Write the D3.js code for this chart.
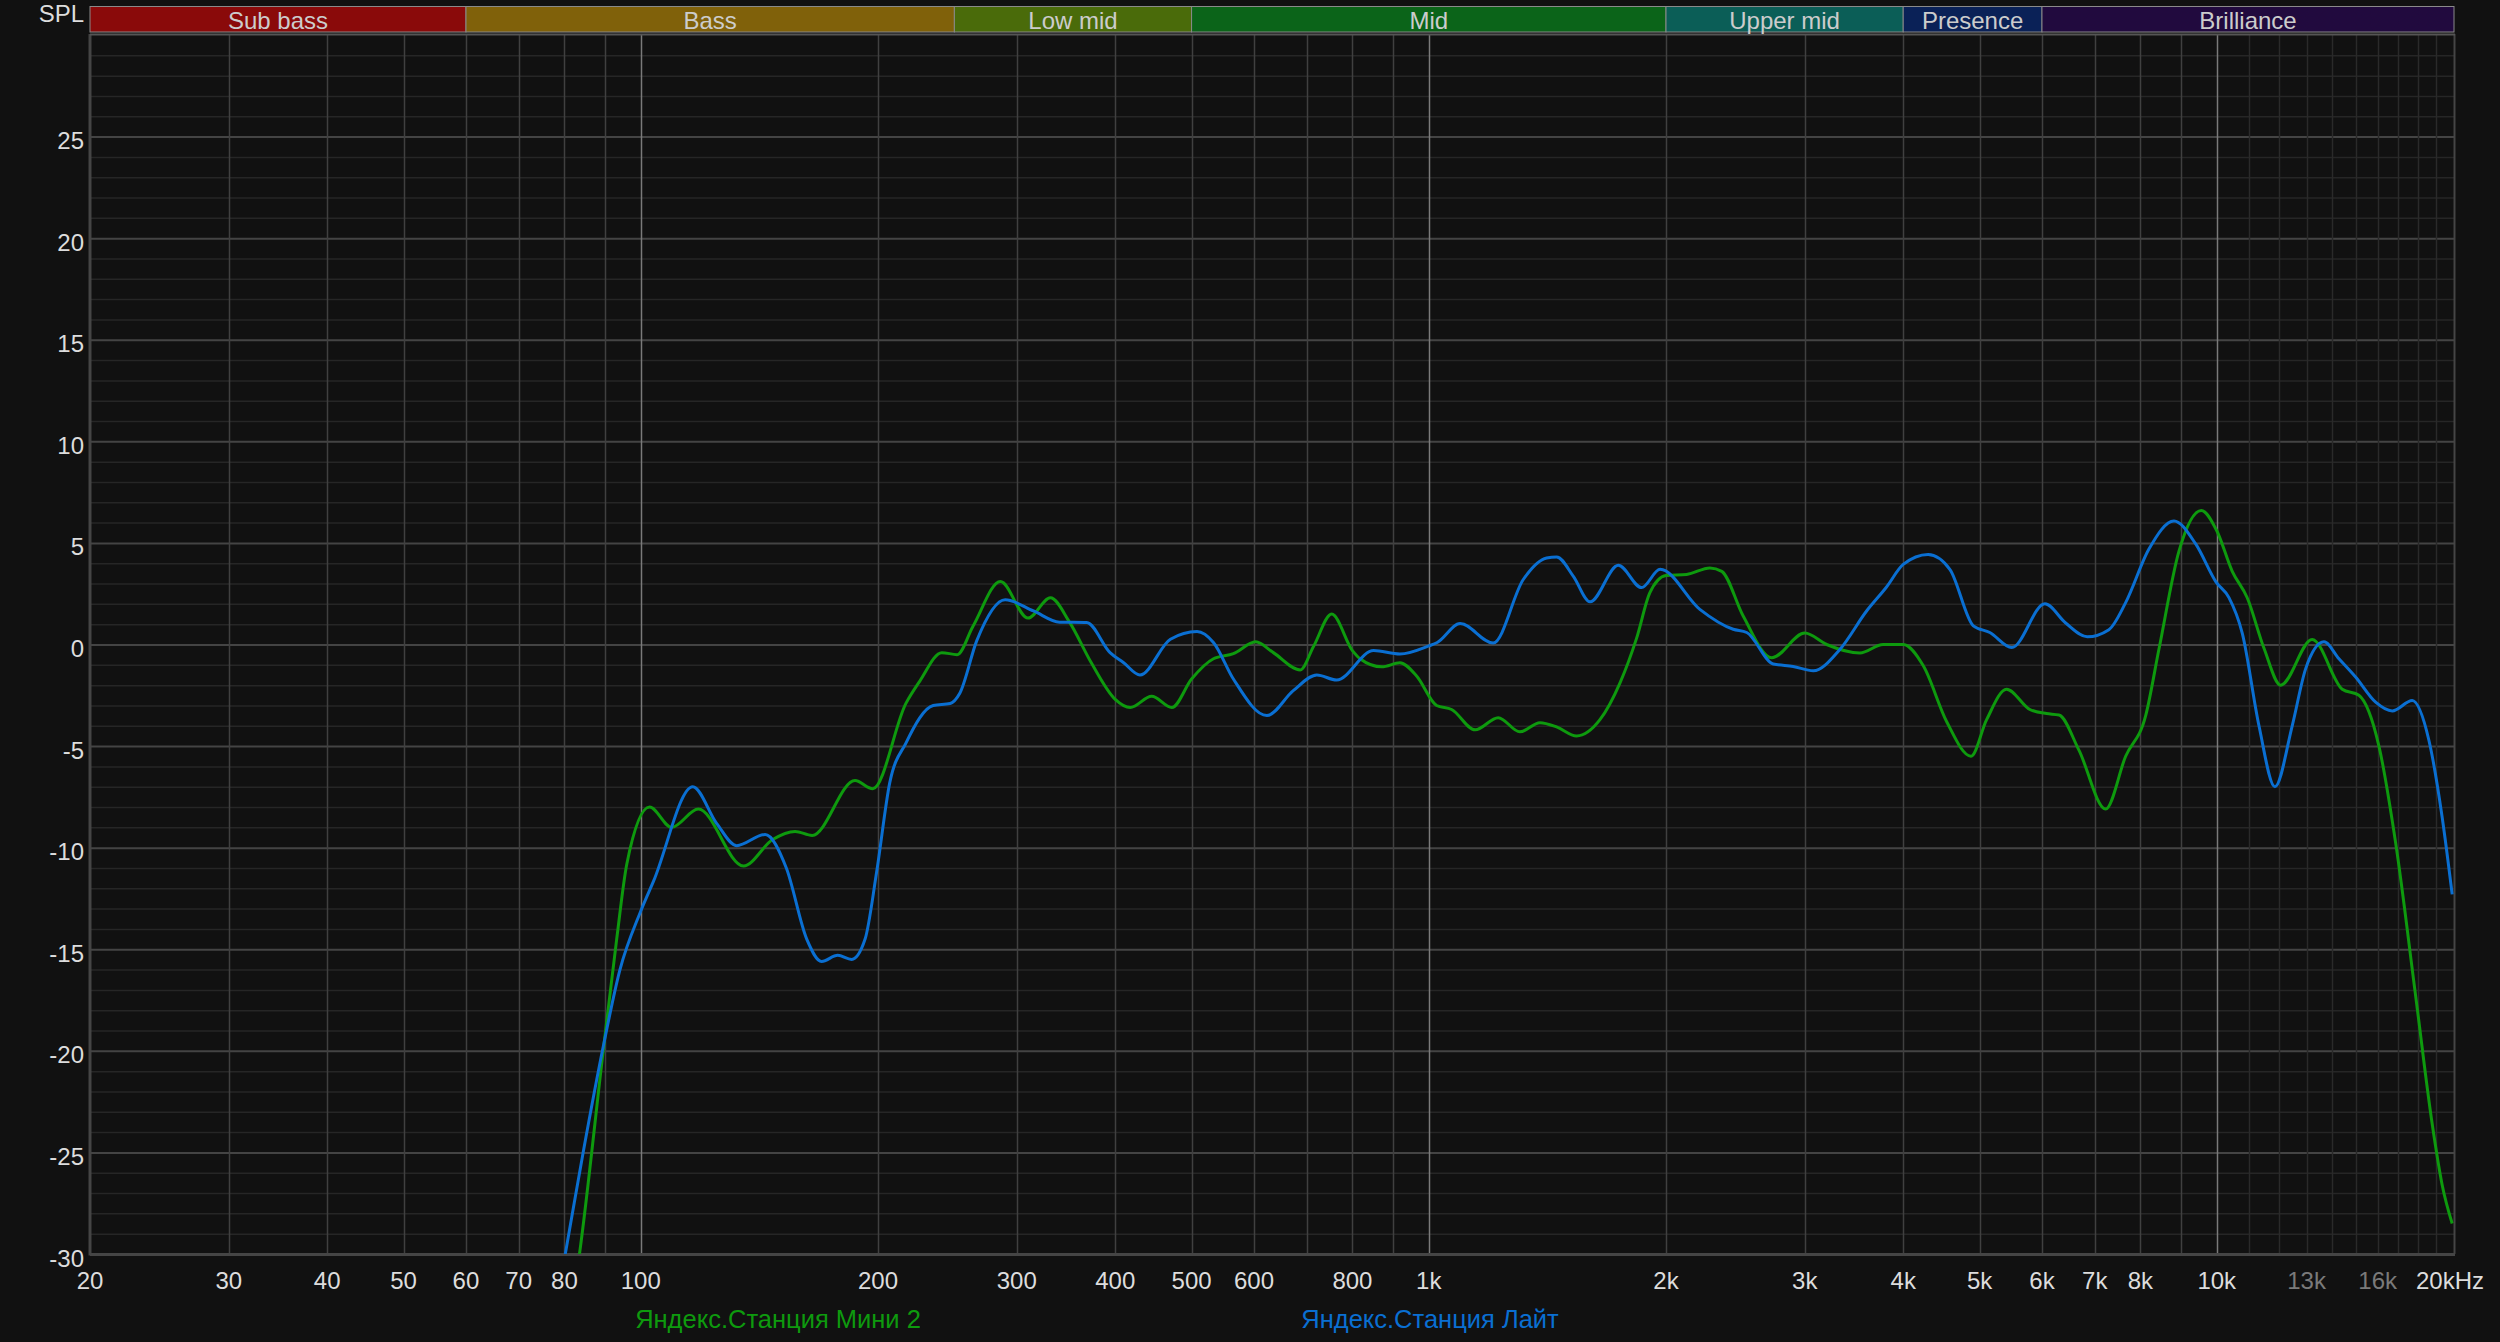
<!DOCTYPE html>
<html>
<head>
<meta charset="utf-8">
<script src="https://cdn.jsdelivr.net/npm/d3@7"></script>
<style>
  html, body { margin: 0; padding: 0; background: #111111; }
  svg { display: block; }
  text { font-family: "Liberation Sans", Arial, sans-serif; }
</style>
</head>
<body>
<svg id="chart" width="2500" height="1342"></svg>
<script>
// ---------------- DATA ----------------
const seriesNames = ["Яндекс.Станция Мини 2", "Яндекс.Станция Лайт"];
const seriesColors = ["#0e9a0e", "#0a6fd2"];

const miniFreq = [78, 83.6, 89.6, 93.2, 96, 102.6, 109.4, 118.3, 135, 147, 157, 165, 187, 197, 217, 226, 241, 252, 264, 286, 310, 331, 350, 373, 400, 418, 445, 472, 500, 533, 565, 603, 635, 687, 714, 753, 800, 818, 872, 919, 965, 1023, 1069, 1145, 1225, 1305, 1384, 1455, 1540, 1649, 1748, 1835, 1908, 2000, 2124, 2274, 2354, 2506, 2724, 3000, 3198, 3524, 3772, 4000, 4242, 4542, 4876, 5104, 5410, 5792, 6080, 6306, 6684, 7226, 7662, 8124, 8448, 8954, 9558, 10000, 10462, 10930, 11482, 12052, 13214, 14428, 15148, 16060, 16862, 17880, 18766, 19320, 19894];
const miniSPL = [-37, -30, -20, -14.5, -10.8, -8.0, -9.0, -8.1, -10.9, -9.6, -9.2, -9.4, -6.7, -7.1, -2.9, -1.8, -0.4, -0.5, 0.9, 3.1, 1.3, 2.3, 1.1, -0.9, -2.7, -3.1, -2.55, -3.1, -1.7, -0.7, -0.45, 0.13, -0.4, -1.25, -0.1, 1.5, -0.3, -0.7, -1.1, -0.9, -1.55, -3.0, -3.2, -4.2, -3.6, -4.3, -3.85, -4.07, -4.5, -3.7, -1.9, 0.3, 2.55, 3.4, 3.45, 3.77, 3.6, 1.4, -0.65, 0.56, 0.0, -0.42, 0.0, 0.0, -1.05, -3.8, -5.5, -3.7, -2.2, -3.2, -3.4, -3.47, -5.2, -8.1, -5.5, -3.5, -0.2, 4.6, 6.6, 5.6, 3.6, 2.3, -0.2, -2.0, 0.25, -2.2, -2.5, -5.0, -9.75, -17.3, -23.6, -26.6, -28.5];

const liteFreq = [76, 80.2, 84.5, 89.6, 94.1, 99.8, 103.8, 116.4, 124.8, 132.3, 143.8, 153, 162.4, 169.6, 177.8, 185.2, 192.6, 199.2, 207, 217, 235, 247, 254, 267, 290, 315, 340, 368, 394, 410, 430, 470, 508, 533, 565, 623, 673, 721, 764, 851, 919, 1000, 1025, 1096, 1207, 1318, 1411, 1453, 1525, 1602, 1740, 1862, 1966, 2208, 2434, 2532, 2736, 2900, 3076, 3326, 3594, 3810, 4000, 4302, 4586, 4910, 5152, 5492, 6052, 6430, 6848, 7296, 7662, 8202, 8824, 9402, 9980, 10362, 10774, 11312, 11852, 12466, 12964, 13678, 14290, 15002, 15906, 16700, 17702, 18582, 19320, 19894];
const liteSPL = [-35, -30, -25, -19.8, -16.0, -13.2, -11.65, -7.0, -8.8, -9.9, -9.35, -11, -14.5, -15.6, -15.3, -15.5, -14.5, -11.2, -6.8, -4.85, -3.0, -2.9, -2.4, 0.2, 2.2, 1.65, 1.1, 1.08, -0.4, -0.9, -1.5, 0.26, 0.64, 0.1, -1.7, -3.5, -2.27, -1.5, -1.75, -0.3, -0.47, -0.07, 0.1, 1.03, 0.07, 3.2, 4.26, 4.31, 3.37, 2.1, 3.9, 2.8, 3.7, 1.73, 0.75, 0.59, -0.96, -1.08, -1.29, -0.23, 1.65, 2.83, 3.94, 4.43, 3.69, 0.92, 0.59, -0.15, 2.0, 1.06, 0.38, 0.73, 2.06, 4.7, 6.08, 4.95, 3.07, 2.31, 0.55, -4.0, -7.0, -4.0, -1.2, 0.13, -0.7, -1.6, -2.84, -3.27, -2.76, -4.7, -8.5, -12.3];

const bandNames = ["Sub bass", "Bass", "Low mid", "Mid", "Upper mid", "Presence", "Brilliance"];
const bandStarts = [20, 60, 250, 500, 2000, 4000, 6000];
const bandEnds = [60, 250, 500, 2000, 4000, 6000, 20000];
const bandColors = ["#8a0a0a", "#80610a", "#4a6b0a", "#0b6419", "#0b5e57", "#0a2157", "#210a3e"];

const xTickValues = [20, 30, 40, 50, 60, 70, 80, 100, 200, 300, 400, 500, 600, 800, 1000, 2000, 3000, 4000, 5000, 6000, 7000, 8000, 10000, 13000, 16000, 20000];
const xTickLabels = ["20", "30", "40", "50", "60", "70", "80", "100", "200", "300", "400", "500", "600", "800", "1k", "2k", "3k", "4k", "5k", "6k", "7k", "8k", "10k", "13k", "16k", "20kHz"];
const xTickDim = [13000, 16000];
const yTickValues = [-30, -25, -20, -15, -10, -5, 0, 5, 10, 15, 20, 25];
const yAxisTitle = "SPL";

// ---------------- LAYOUT ----------------
const L = 90, R = 2454, T = 35, B = 1254;
const svg = d3.select("#chart");
svg.append("rect").attr("width", 2500).attr("height", 1342).attr("fill", "#111111");

const x = d3.scaleLog().domain([20, 20000]).range([L, R]);
const y = d3.scaleLinear().domain([-30, 30]).range([B, T]);

svg.append("rect").attr("x", L).attr("y", T).attr("width", R - L).attr("height", B - T).attr("fill", "#111111");

// horizontal grid (1 dB)
const hLines = d3.range(-29, 30, 1);
svg.append("g").selectAll("line").data(hLines).join("line")
  .attr("x1", L).attr("x2", R)
  .attr("y1", d => y(d) + 0.5).attr("y2", d => y(d) + 0.5)
  .attr("stroke", d => d % 5 === 0 ? "#444444" : "#262626")
  .attr("stroke-width", d => d % 5 === 0 ? 2 : 1.5);

// vertical grid
const vLines = [];
[10, 100, 1000, 10000].forEach(dec => { for (let m = 1; m < 10; m++) { const f = dec * m; if (f > 20 && f < 20000) vLines.push(f); } });
for (let k = 11; k < 20; k++) vLines.push(k * 1000);
const uniqV = Array.from(new Set(vLines)).sort((a, b) => a - b);
svg.append("g").selectAll("line").data(uniqV).join("line")
  .attr("x1", d => Math.round(x(d)) + 0.5).attr("x2", d => Math.round(x(d)) + 0.5)
  .attr("y1", T).attr("y2", B)
  .attr("stroke", d => (d === 100 || d === 1000 || d === 10000) ? "#7a7a7a" : (d > 10000 && d % 1000 === 0 ? "#2a2a2a" : "#404040"))
  .attr("stroke-width", 1.5);

// frame
svg.append("line").attr("x1", L).attr("x2", L).attr("y1", T - 1).attr("y2", B + 1.5).attr("stroke", "#454545").attr("stroke-width", 3);
svg.append("line").attr("x1", L).attr("x2", R + 1).attr("y1", B + 0.5).attr("y2", B + 0.5).attr("stroke", "#454545").attr("stroke-width", 3);
svg.append("line").attr("x1", R + 0.5).attr("x2", R + 0.5).attr("y1", T - 1).attr("y2", B).attr("stroke", "#454545").attr("stroke-width", 2);
svg.append("line").attr("x1", L).attr("x2", R + 1).attr("y1", T - 0.5).attr("y2", T - 0.5).attr("stroke", "#555555").attr("stroke-width", 2);

// band bar
const bandG = svg.append("g");
const bands = bandNames.map((n, i) => ({ name: n, s: bandStarts[i], e: bandEnds[i], c: bandColors[i] }));
bandG.selectAll("rect").data(bands).join("rect")
  .attr("x", d => x(d.s)).attr("width", d => x(d.e) - x(d.s))
  .attr("y", 6.5).attr("height", 25.5)
  .attr("fill", d => d.c).attr("stroke", "#8a8a8a").attr("stroke-width", 1);
bandG.selectAll("text").data(bands).join("text")
  .attr("x", d => (x(d.s) + x(d.e)) / 2).attr("y", 29)
  .attr("text-anchor", "middle").attr("font-size", 24).attr("fill", "#cccccc")
  .text(d => d.name);

// y labels
svg.append("g").selectAll("text").data(yTickValues).join("text")
  .attr("x", 84).attr("y", d => y(d) + 12.5)
  .attr("text-anchor", "end").attr("font-size", 24).attr("fill", "#dddddd")
  .text(d => d);
svg.append("text").attr("x", 84).attr("y", 22).attr("text-anchor", "end")
  .attr("font-size", 24).attr("fill", "#dddddd").text(yAxisTitle);

// x labels
svg.append("g").selectAll("text").data(xTickValues).join("text")
  .attr("x", (d, i) => i === xTickValues.length - 1 ? x(d) - 4 : x(d)).attr("y", 1289)
  .attr("text-anchor", "middle").attr("font-size", 24)
  .attr("fill", d => xTickDim.includes(d) ? "#7a7a7a" : "#dddddd")
  .text((d, i) => xTickLabels[i]);

// curves
svg.append("clipPath").attr("id", "plotClip").append("rect")
  .attr("x", L).attr("y", T).attr("width", R - L).attr("height", B - T);
const line = d3.line().x(d => x(d[0])).y(d => y(d[1])).curve(d3.curveMonotoneX);
const series = [
  miniFreq.map((f, i) => [f, miniSPL[i]]),
  liteFreq.map((f, i) => [f, liteSPL[i]])
];
const curveG = svg.append("g").attr("clip-path", "url(#plotClip)");
series.forEach((s, i) => {
  curveG.append("path").datum(s).attr("d", line)
    .attr("fill", "none").attr("stroke", seriesColors[i]).attr("stroke-width", 3)
    .attr("stroke-linejoin", "round");
});

// legend
const legendX = [778, 1430];
svg.append("g").selectAll("text").data(seriesNames).join("text")
  .attr("x", (d, i) => legendX[i]).attr("y", 1328)
  .attr("text-anchor", "middle").attr("font-size", 25.5)
  .attr("fill", (d, i) => seriesColors[i])
  .text(d => d);
</script>
</body>
</html>
